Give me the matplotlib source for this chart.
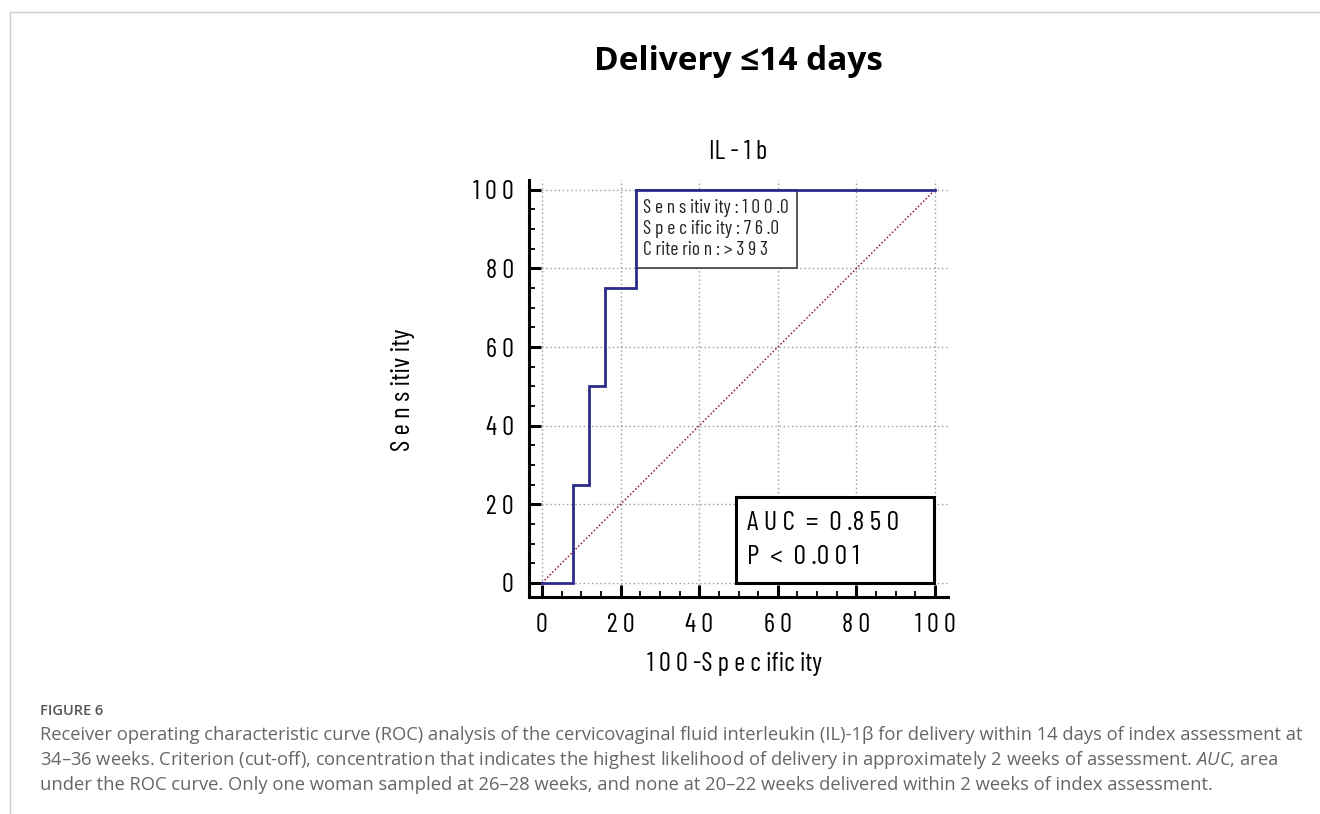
import matplotlib
matplotlib.use("Agg")
import matplotlib.pyplot as plt
from matplotlib.patches import Rectangle
from matplotlib.ticker import MultipleLocator, FixedLocator, FixedFormatter

# ---- data ----
roc_fpr = [0, 8, 8, 12, 12, 16, 16, 24, 24, 100]
roc_tpr = [0, 0, 25, 25, 50, 50, 75, 75, 100, 100]
diag_x = [0, 100]
diag_y = [0, 100]
x_ticks = [0, 20, 40, 60, 80, 100]
x_tick_labels = ["0", "2 0", "4 0", "6 0", "8 0", "1 0 0"]
y_ticks = [0, 20, 40, 60, 80, 100]
y_tick_labels = ["0", "2 0", "4 0", "6 0", "8 0", "1 0 0"]
title = "Delivery \u226414 days"
subtitle = "IL - 1 b"
xlabel = "1 0 0 -S p e c ific ity"
ylabel = "S e n s itiv ity"
crit_lines = ["S e n s itiv ity : 1 0 0 .0", "S p e c ific ity : 7 6 .0", "C rite rio n : > 3 9 3"]
auc_lines = ["A U C  =  0 .8 5 0", "P  <  0 .0 0 1"]
fig_label = "FIGURE 6"
caption_lines = [
    "Receiver operating characteristic curve (ROC) analysis of the cervicovaginal fluid interleukin (IL)-1\u03b2 for delivery within 14 days of index assessment at",
    "34\u201336 weeks. Criterion (cut-off), concentration that indicates the highest likelihood of delivery in approximately 2 weeks of assessment. $\\it{AUC}$, area",
    "under the ROC curve. Only one woman sampled at 26\u201328 weeks, and none at 20\u201322 weeks delivered within 2 weeks of index assessment.",
]

plt.rcParams["mathtext.fontset"] = "custom"
plt.rcParams["mathtext.it"] = "Open Sans:italic"
plt.rcParams["mathtext.rm"] = "Open Sans"

NARROW = ["Barlow Condensed", "DejaVu Sans"]
OPEN = ["Open Sans", "DejaVu Sans"]
W, H = 1320, 814
fig = plt.figure(figsize=(W / 100, H / 100), dpi=100)

# light frame lines (left and top)
fig.add_artist(plt.Line2D([10 / W, 10 / W], [0, 1 - 12 / H], color="#cfcfcf", lw=1))
fig.add_artist(plt.Line2D([10 / W, 1], [1 - 12 / H, 1 - 12 / H], color="#cfcfcf", lw=1))

L, R, T, B = 529, 948, 180, 597
ax = fig.add_axes([L / W, 1 - B / H, (R - L) / W, (B - T) / H])
XL, YL = (-3.3, 103.3), (-3.6, 102.5)
ax.set_xlim(*XL)
ax.set_ylim(*YL)

# grid
for v in x_ticks:
    ax.plot([v, v], YL, ls=(0, (1, 2)), color="#9a9a9a", lw=1, zorder=1)
for v in y_ticks:
    ax.plot(XL, [v, v], ls=(0, (1, 2)), color="#9a9a9a", lw=1, zorder=1)

ax.plot(diag_x, diag_y, ls=(0, (1, 1.4)), color="#8b1c2c", lw=1.1, zorder=2)
ax.plot(roc_fpr, roc_tpr, color="#2b2b8c", lw=2.0, zorder=4, solid_joinstyle="miter")

# criterion box
ax.add_patch(Rectangle((24, 80.2), 40.9, 19.8, fill=True, facecolor="white",
                       edgecolor="#4a4a4a", lw=1.3, zorder=3))
for yv, s in zip([95.4, 90.1, 84.7], crit_lines):
    ax.text(25.7, yv, s, ha="left", va="center", fontsize=14, family=NARROW,
            zorder=5, color="#222222")

# AUC box
ax.add_patch(Rectangle((49.4, 0.0), 50.3, 21.9, fill=True, facecolor="white",
                       edgecolor="black", lw=2.2, zorder=5))
for yv, s in zip([15.3, 6.6], auc_lines):
    ax.text(52.2, yv, s, ha="left", va="center", fontsize=20, family=NARROW, zorder=6)

for s in ["top", "right"]:
    ax.spines[s].set_visible(False)
for s in ["left", "bottom"]:
    ax.spines[s].set_linewidth(2.2)

ax.xaxis.set_major_locator(FixedLocator(x_ticks))
ax.xaxis.set_major_formatter(FixedFormatter(x_tick_labels))
ax.yaxis.set_major_locator(FixedLocator(y_ticks))
ax.yaxis.set_major_formatter(FixedFormatter(y_tick_labels))
ax.xaxis.set_minor_locator(MultipleLocator(5))
ax.yaxis.set_minor_locator(MultipleLocator(5))
ax.tick_params(which="major", direction="in", length=8.6, width=2.2, labelsize=19)
ax.tick_params(axis="y", which="major", pad=11)
ax.tick_params(axis="x", which="major", pad=11.5)
ax.tick_params(which="minor", direction="in", length=4.5, width=1.3)
for lab in ax.get_xticklabels() + ax.get_yticklabels():
    lab.set_family(NARROW)

ax.set_xlabel(xlabel, fontsize=19, family=NARROW, va="center")
ax.xaxis.set_label_coords((735 - L) / (R - L), (B - 664) / (B - T))
ax.set_ylabel(ylabel, fontsize=19.5, family=NARROW, va="center")
ax.yaxis.set_label_coords((403 - L) / (R - L), (B - 390) / (B - T))
ax.set_title(subtitle, fontsize=19, family=NARROW, y=(B - 152) / (B - T), va="center", pad=0)

fig.text(738 / W, 1 - 62 / H, title, ha="center", va="center", fontsize=24,
         fontweight="bold", family=OPEN)

fig.text(40 / W, 1 - 715 / H, fig_label, ha="left", va="baseline", fontsize=10.5,
         fontweight="semibold", family=OPEN, color="#555555")
for yb, s in zip([740, 765, 790], caption_lines):
    fig.text(40 / W, 1 - yb / H, s, ha="left", va="baseline", fontsize=13.2,
             family=OPEN, color="#666666")

fig.savefig("out.png", dpi=100)
